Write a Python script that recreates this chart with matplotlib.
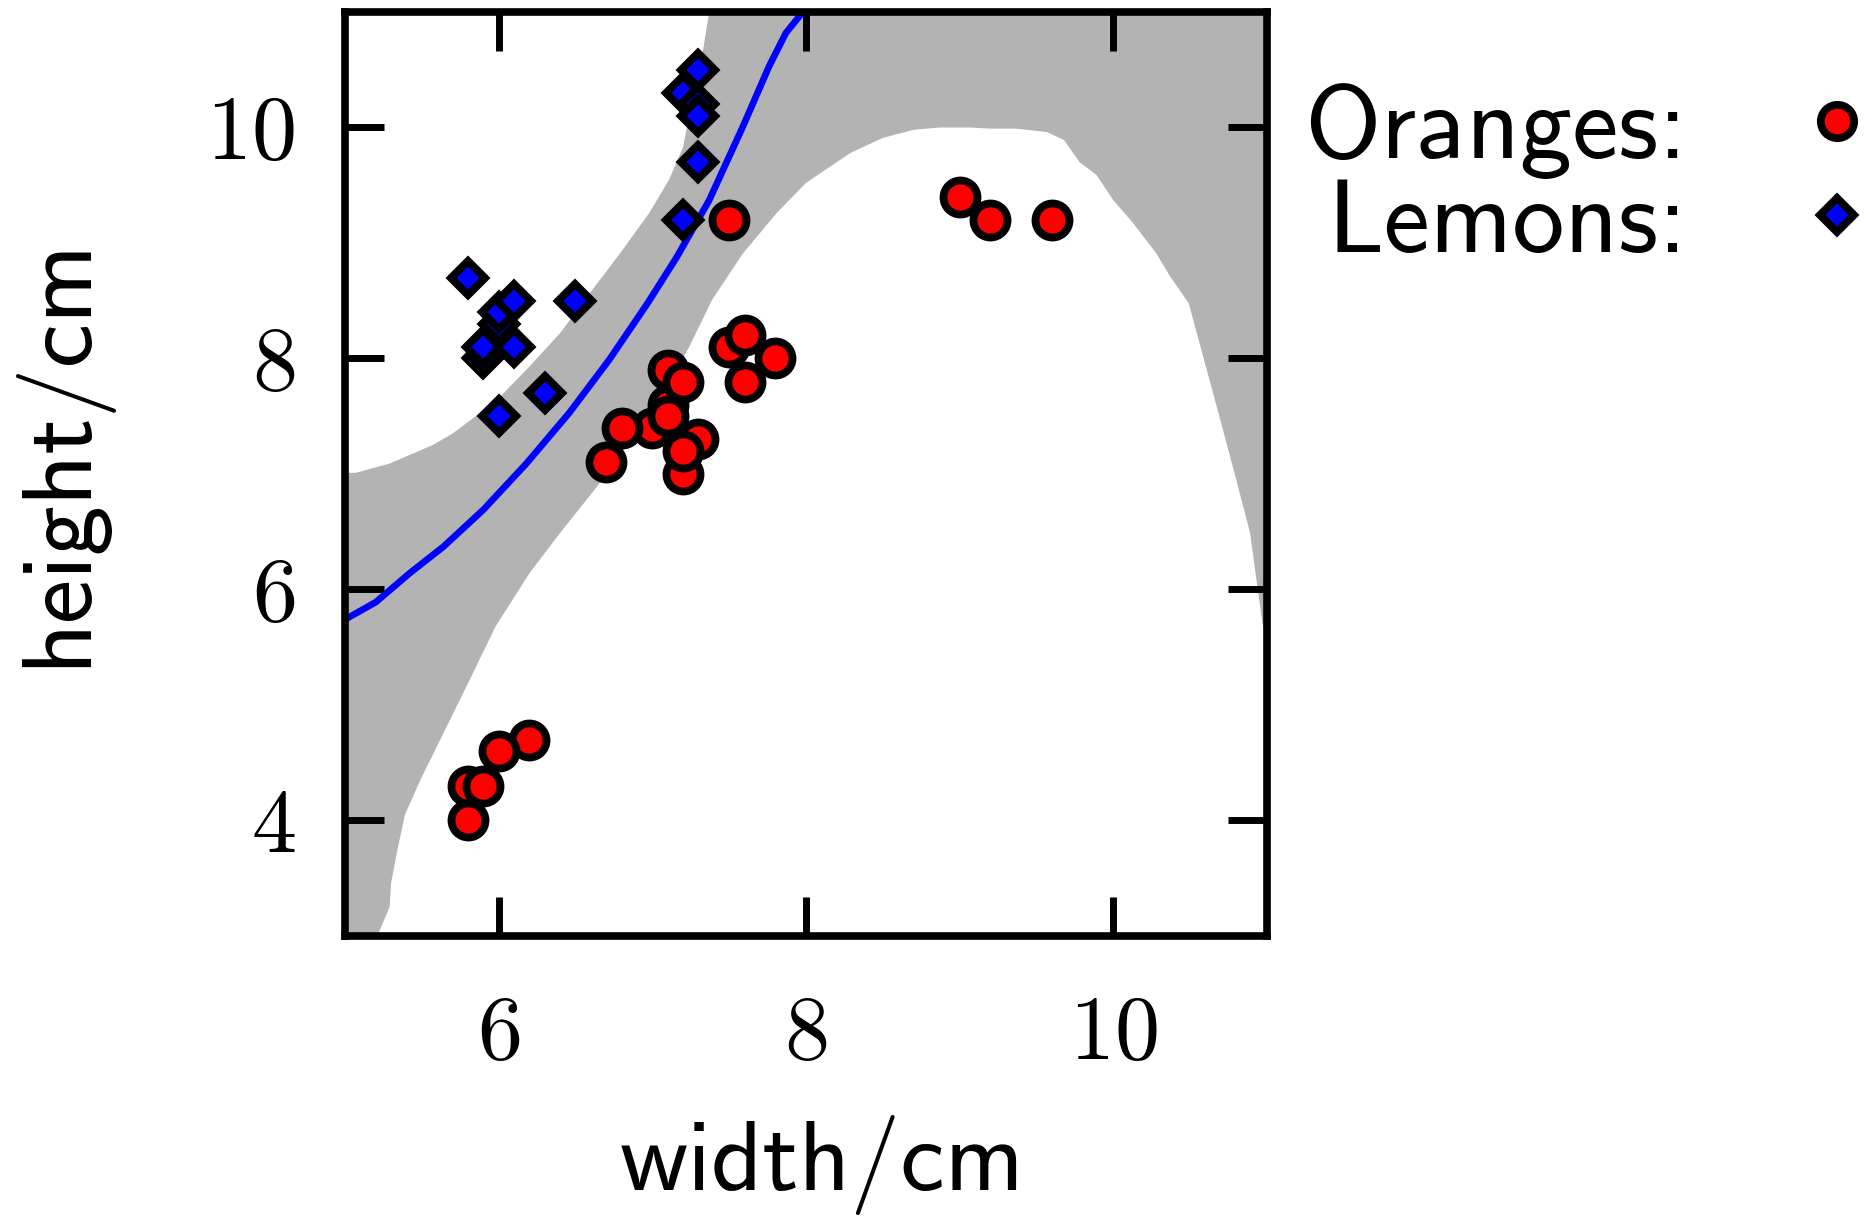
import matplotlib
matplotlib.use("Agg")
import matplotlib.pyplot as plt
from matplotlib.lines import Line2D
from matplotlib.font_manager import FontProperties

plt.rcParams['font.family'] = 'cmr10'
plt.rcParams['axes.formatter.use_mathtext'] = True

# oranges (drawing order matters for the overlaps)
orange_w = [7.0, 7.1, 7.1, 7.2, 7.1, 6.8, 6.7, 7.2, 7.3, 7.2, 7.5, 7.8, 7.6, 7.6, 7.5,
            5.8, 5.9, 5.8, 6.2, 6.0, 9.0, 9.2, 9.6]
orange_h = [7.4, 7.6, 7.9, 7.8, 7.5, 7.4, 7.1, 7.0, 7.3, 7.2, 8.1, 8.0, 8.2, 7.8, 9.2,
            4.3, 4.3, 4.0, 4.7, 4.6, 9.4, 9.2, 9.2]

# lemons
lemon_w = [7.3, 7.2, 7.3, 7.3, 7.3, 7.2, 5.8, 6.5, 6.0, 6.0, 6.1, 5.9, 5.9, 6.1, 6.3, 6.0]
lemon_h = [10.5, 10.3, 10.2, 10.1, 9.7, 9.2, 8.7, 8.5, 8.3, 8.4, 8.5, 8.0, 8.1, 8.1, 7.7, 7.5]

# decision boundary
line_w = [5.0, 5.2, 5.42, 5.64, 5.9, 6.18, 6.46, 6.72, 6.97, 7.16, 7.37, 7.59, 7.76, 7.87, 7.98]
line_h = [5.74, 5.89, 6.14, 6.37, 6.69, 7.09, 7.53, 7.99, 8.48, 8.88, 9.37, 10.01, 10.53, 10.82, 11.0]

# uncertain band: edge on the lemon side
up_w = [5.0, 5.07, 5.29, 5.57, 5.70, 5.85, 6.01, 6.20, 6.40, 6.59, 6.79, 6.98, 7.11, 7.20,
        7.26, 7.33, 7.37]
up_h = [7.01, 7.01, 7.09, 7.25, 7.35, 7.50, 7.67, 7.93, 8.22, 8.56, 8.91, 9.26, 9.55, 9.83,
        10.24, 10.67, 11.0]
# edge on the orange side
lo_w = [5.21, 5.29, 5.30, 5.34, 5.39, 5.49, 5.62, 5.79, 5.98, 6.20, 6.40, 6.64, 6.87, 7.07,
        7.24, 7.39, 7.59, 7.81, 8.0, 8.29, 8.50, 8.70, 8.87, 9.07, 9.20, 9.37, 9.57, 9.68,
        9.78, 9.89, 10.0, 10.13, 10.28, 10.37, 10.49, 10.58, 10.69, 10.80, 10.89, 10.97, 11.0]
lo_h = [3.0, 3.25, 3.46, 3.74, 4.05, 4.35, 4.70, 5.16, 5.68, 6.14, 6.49, 6.89, 7.32, 7.70,
        8.10, 8.51, 8.91, 9.26, 9.52, 9.78, 9.91, 9.98, 10.0, 10.0, 9.99, 9.99, 9.96, 9.89,
        9.70, 9.59, 9.37, 9.17, 8.91, 8.71, 8.48, 8.04, 7.50, 6.95, 6.49, 5.71, 5.6]

x_ticks = [6, 8, 10]
y_ticks = [4, 6, 8, 10]

fig = plt.figure(figsize=(18.72, 12.23), dpi=100)
ax = fig.add_axes([0.1843, 0.2347, 0.4925, 0.7555])

band_x = up_w + [11.0] + lo_w[::-1] + [5.0]
band_y = up_h + [11.0] + lo_h[::-1] + [3.0]
ax.fill(band_x, band_y, color='#b3b3b3', lw=0, zorder=1)

ax.plot(line_w, line_h, color='#0000ff', lw=4.8, zorder=2)

ax.plot(orange_w, orange_h, ls='none', marker='o', ms=24.5, mfc='#ff0000',
        mec='black', mew=5.6, zorder=3)
ax.plot(lemon_w, lemon_h, ls='none', marker='D', ms=17.5, mfc='#0000ff',
        mec='black', mew=5.6, zorder=3)

ax.set_xlim(5, 11)
ax.set_ylim(3, 11)
ax.set_xticks(x_ticks)
ax.set_yticks(y_ticks)
ax.tick_params(direction='in', length=28, width=5, top=True, right=True, labelsize=65)
ax.tick_params(axis='x', pad=43)
ax.tick_params(axis='y', pad=36)
for s in ax.spines.values():
    s.set_linewidth(5.5)

ax.set_xlabel('width/cm', fontfamily='cmss10', fontsize=72, labelpad=27)
ax.set_ylabel('height/cm', fontfamily='cmss10', fontsize=72, labelpad=70)
ax.xaxis.label.set_x(0.517)
ax.yaxis.label.set_y(0.525)

handles = [
    Line2D([], [], ls='none', marker='o', ms=24, mfc='#ff0000', mec='black', mew=5.6),
    Line2D([], [], ls='none', marker='D', ms=17, mfc='#0000ff', mec='black', mew=5.6),
]
ax.legend(handles, ['Oranges:', 'Lemons:'], markerfirst=False, frameon=False,
          loc='upper right', bbox_to_anchor=(1889 / 1872, 1 - 83 / 1223),
          bbox_transform=fig.transFigure, borderpad=0, borderaxespad=0,
          handlelength=1.0, handletextpad=0.94, labelspacing=0.0,
          prop=FontProperties(family='cmss10', size=75))

fig.savefig('out.png', dpi=100)
